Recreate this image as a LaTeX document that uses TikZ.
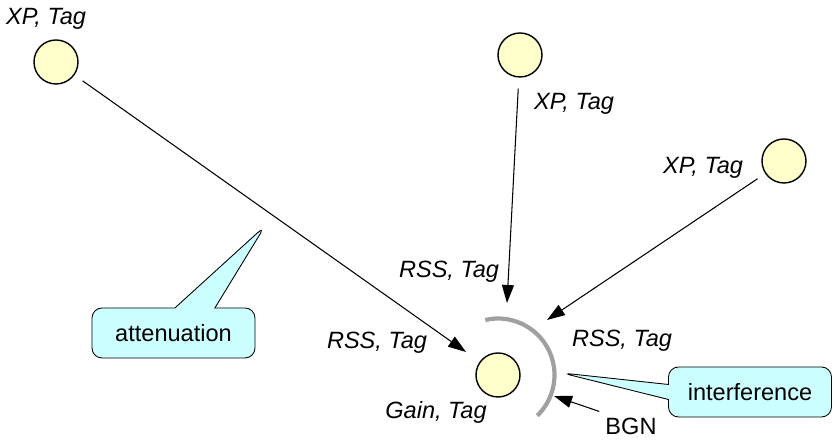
\documentclass[tikz,border=0pt]{standalone}
\usepackage{fontspec}
\setmainfont{Liberation Sans}
\usetikzlibrary{shapes.callouts,arrows.meta}
\definecolor{stationfill}{HTML}{FFFFCC}
\definecolor{notefill}{HTML}{CCFFFF}
\definecolor{arcgray}{HTML}{A0A0A0}

\begin{document}
\begin{tikzpicture}[font=\fontsize{13.4}{16}\selectfont,
  station/.style={draw,circle,fill=stationfill,minimum size=0.88cm,inner sep=0pt,line width=0.8pt},
  lab/.style={font=\fontsize{13.4}{16}\selectfont\itshape},
  sig/.style={line width=0.6pt,-{Triangle[length=0.36cm,width=0.24cm]}},
  note/.style={draw,rectangle callout,rounded corners=0.2cm,fill=notefill,minimum width=3.26cm,minimum height=1cm,line width=0.5pt}]
\useasboundingbox (0,0) rectangle (16.7,8.84);

% stations
\node [station] (a) at(1.12,7.60){};
\node [station] (b) at(10.40,7.74){};
\node [station] (c) at(15.68,5.62){};
\node [station] (rx) at(9.96,1.34){};

% labels
\node [lab] (la) at(0.92,8.46){XP, Tag};
\node [lab] (lb) at(11.48,6.76){XP, Tag};
\node [lab] (lc) at(14.06,5.48){XP, Tag};
\node [lab] (rtop) at(8.98,3.40){RSS, Tag};
\node [lab] (rleft) at(7.54,1.98){RSS, Tag};
\node [lab] (rright) at(12.44,2.02){RSS, Tag};
\node [lab] (gain) at(8.72,0.60){Gain, Tag};
\node (bgn) at(12.62,0.32){BGN};

% arrow tips
\coordinate (ta) at(9.32,1.80);
\coordinate (tb) at(10.14,2.78);
\coordinate (tc) at(10.94,2.44);
\coordinate (tn) at(11.08,0.92);
\coordinate (pa) at(5.30,4.32);
\coordinate (pi) at(11.24,1.38);

\draw[sig,shorten <=0.2cm](a) -- (ta);
\draw[sig,shorten <=0.22cm](b) -- (tb);
\draw[sig,shorten <=0.18cm](c) -- (tc);
\draw[sig](bgn.north west) -- (tn);

% receiver arc
\draw[arcgray,line width=2.4pt] (rx.center) ++(103:1.13) arc(103:-46:1.13);

% notes
\node [note,callout absolute pointer={(pa)},callout pointer width=0.8cm] (att) at(3.47,2.18){attenuation};
\node [note,callout absolute pointer={(pi)},callout pointer width=0.3cm] (intf) at(15.0,1.0){interference};
\end{tikzpicture}
\end{document}
